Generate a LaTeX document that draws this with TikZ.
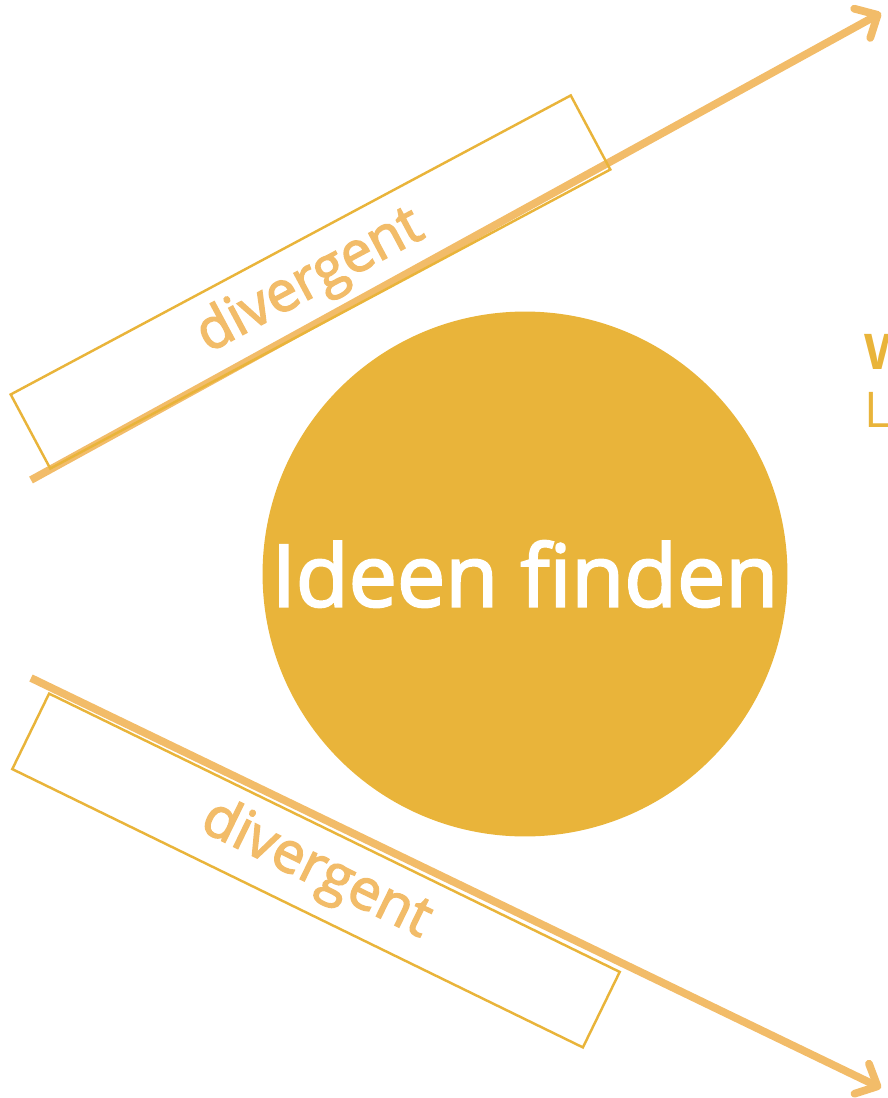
\documentclass[tikz,border=0pt]{standalone}
\usepackage{fontspec}
\setmainfont{Open Sans}
\newfontfamily\semibold[FakeBold=2.5]{Open Sans}
\usetikzlibrary{arrows.meta}
\definecolor{gold}{HTML}{E9B43A}
\definecolor{apricot}{HTML}{F2BC69}
\begin{document}
\begin{tikzpicture}[x=0.02cm, y=-0.02cm, >={Straight Barb[round, length=10pt, width=19pt]},
	flow/.style={->, line width=4.4pt, apricot},
	phase/.style={draw=gold, line width=1.4pt, text=apricot, inner sep=0pt,
		minimum width=12.7cm, minimum height=1.68cm, font=\semibold\fontsize{32}{38}\selectfont}]
		\useasboundingbox (0,0) rectangle (887,1098);
		\node[circle, fill=gold, minimum size=10.5cm, inner sep=0pt, text=white,
		font=\semibold\fontsize{49}{58}\selectfont] (ideen) at (525,574) {Ideen finden};
		\coordinate (topstart) at (31,480);
		\coordinate (topend) at (881,13);
		\coordinate (botstart) at (31,678);
		\coordinate (botend) at (881,1088);
		\draw[flow] (topstart) -- (topend);
		\draw[flow] (botstart) -- (botend);
		\node[phase, rotate=28.1] (divtop) at (310.5,282) {divergent};
		\node[phase, rotate=-26] (divbot) at (316,870.5) {divergent};
		\node[anchor=west, text=gold, inner sep=0pt, font=\fontsize{28}{32}\selectfont\bfseries] (wtext) at (864,352) {W};
		\node[anchor=west, text=gold, inner sep=0pt, font=\fontsize{28}{32}\selectfont] (ltext) at (864,410) {L};
	\end{tikzpicture}
\end{document}
